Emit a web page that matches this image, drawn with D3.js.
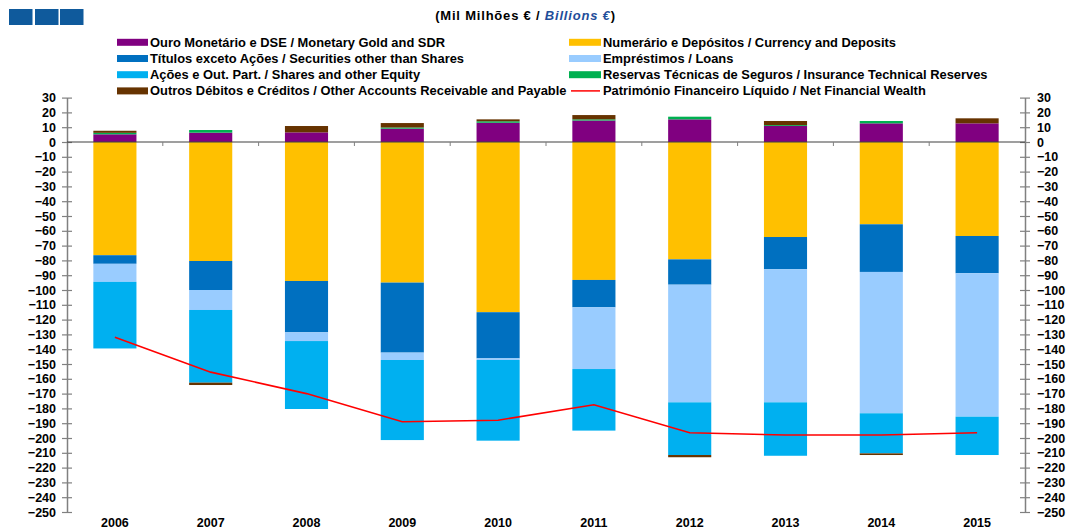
<!DOCTYPE html>
<html>
<head>
<meta charset="utf-8">
<script src="https://cdn.jsdelivr.net/npm/d3@7"></script>
<style>
  body { margin: 0; background: #fff; }
  svg { display: block; font-family: "Liberation Sans", Arial, sans-serif; }
  .axis text { font-size: 12.5px; font-weight: bold; fill: #000; }
  .legend text { font-size: 12.9px; font-weight: bold; fill: #000; }
</style>
</head>
<body>
<svg width="1070" height="530"></svg>
<script>
// data (Mil Milhões €)
var years = ['2006','2007','2008','2009','2010','2011','2012','2013','2014','2015'];
var gold       = [5.2, 6.3, 6.5, 9.0, 13.0, 14.5, 15.3, 10.8, 12.6, 12.6];
var currency   = [-76.5, -80.4, -93.9, -95.0, -115.0, -93.2, -79.3, -64.2, -55.6, -63.5];
var securities = [-5.8, -19.6, -34.7, -47.3, -31.2, -18.5, -17.1, -21.8, -32.2, -25.2];
var loans      = [-12.2, -13.5, -5.9, -5.0, -1.1, -41.7, -79.5, -89.9, -95.5, -96.9];
var shares     = [-45.0, -49.1, -45.9, -54.1, -54.5, -41.6, -35.6, -36.1, -27.1, -25.9];
var insurance  = [1.0, 1.8, 0.0, 0.8, 1.0, 0.8, 1.8, 0.6, 1.6, 0.0];
var other      = [1.4, -1.6, 4.3, 3.0, 1.3, 2.9, -1.5, 2.8, -1.1, 3.4];
var netWealth  = [-132.0, -155.5, -170.0, -189.0, -188.0, -177.5, -196.5, -198.0, -198.0, -196.5];
var yTicks = d3.range(-250, 31, 10);

var series = [
  {key:'gold', vals:gold, color:'#800080', label:'Ouro Monetário e DSE / Monetary Gold and SDR'},
  {key:'currency', vals:currency, color:'#FFC000', label:'Numerário e Depósitos / Currency and Deposits'},
  {key:'securities', vals:securities, color:'#0070C0', label:'Títulos exceto Ações / Securities other than Shares'},
  {key:'loans', vals:loans, color:'#99CCFF', label:'Empréstimos / Loans'},
  {key:'shares', vals:shares, color:'#00B0F0', label:'Ações e Out. Part. / Shares and other Equity'},
  {key:'insurance', vals:insurance, color:'#00B050', label:'Reservas Técnicas de Seguros / Insurance Technical Reserves'},
  {key:'other', vals:other, color:'#663300', label:'Outros Débitos e Créditos / Other Accounts Receivable and Payable'}
];

var left = 67, right = 1025, y_top = 97.6, y_bot = 512;

var svg = d3.select('svg');

// logo squares
[9, 35, 60].forEach(function(x){
  svg.append('rect').attr('x', x).attr('y', 9).attr('width', 23.5).attr('height', 16).attr('fill', '#0F5A9C');
});

// title
var title = svg.append('text').attr('x', 525.5).attr('y', 20).attr('text-anchor', 'middle')
  .attr('font-size', 13).attr('font-weight', 'bold').attr('letter-spacing', 0.8);
title.append('tspan').text('(Mil Milhões € / ');
title.append('tspan').attr('fill', '#1F4E9A').attr('font-style', 'italic').text('Billions €');
title.append('tspan').text(')');

// legend
var lg = svg.append('g').attr('class', 'legend');
var legItems = [
  {s:'gold', col:0, row:0}, {s:'currency', col:1, row:0},
  {s:'securities', col:0, row:1}, {s:'loans', col:1, row:1},
  {s:'shares', col:0, row:2}, {s:'insurance', col:1, row:2},
  {s:'other', col:0, row:3}, {s:'net', col:1, row:3}
];
legItems.forEach(function(it){
  var x = it.col == 0 ? 117 : 569;
  var tx = it.col == 0 ? 150 : 603;
  var y = 42.3 + it.row * 16.2;
  if(it.s == 'net'){
    lg.append('line').attr('x1', x + 2).attr('x2', x + 31).attr('y1', y).attr('y2', y)
      .attr('stroke', '#FF0000').attr('stroke-width', 1.5);
    lg.append('text').attr('x', tx).attr('y', y + 4.5).text('Património Financeiro Líquido / Net Financial Wealth');
  } else {
    var s = series.find(function(d){ return d.key == it.s; });
    lg.append('rect').attr('x', x).attr('y', y - 3.5).attr('width', tx - x - 2).attr('height', 7).attr('fill', s.color);
    lg.append('text').attr('x', tx).attr('y', y + 4.5).text(s.label);
  }
});

// scales
var x_scale = d3.scaleBand().domain(years).range([left, right]).paddingInner(0.55).paddingOuter(0.275);
var y_scale = d3.scaleLinear().domain([-250, 30]).range([y_bot, y_top]);

// stacked bars
var table = years.map(function(y, i){
  var row = {year: y};
  series.forEach(function(s){ row[s.key] = s.vals[i]; });
  return row;
});
var stack = d3.stack().keys(series.map(function(s){ return s.key; }))
  .offset(d3.stackOffsetDiverging);
var stacked = stack(table);

var bars = svg.append('g');
stacked.forEach(function(layer, li){
  bars.append('g').attr('fill', series[li].color)
    .selectAll('rect').data(layer.filter(function(d){ return d[1] != d[0]; })).enter()
    .append('rect')
    .attr('x', function(d){ return x_scale(d.data.year); })
    .attr('width', x_scale.bandwidth())
    .attr('y', function(d){ return y_scale(Math.max(d[0], d[1])); })
    .attr('height', function(d){ return Math.abs(y_scale(d[0]) - y_scale(d[1])); });
});

// axes
var y_left = d3.axisLeft(y_scale).tickValues(yTicks).tickSize(0).tickPadding(11);
var y_right = d3.axisRight(y_scale).tickValues(yTicks).tickSize(0).tickPadding(12);
var gl = svg.append('g').attr('class', 'axis').attr('transform', 'translate(' + left + ',0)').call(y_left);
var gr = svg.append('g').attr('class', 'axis').attr('transform', 'translate(' + right + ',0)').call(y_right);
[gl, gr].forEach(function(g){
  g.select('.domain').attr('stroke', '#808080').attr('stroke-width', 1.5);
  g.selectAll('.tick').append('line').attr('x1', -5).attr('x2', 5).attr('stroke', '#808080').attr('stroke-width', 1.2);
});

// zero line and category ticks
svg.append('line').attr('x1', left).attr('x2', right).attr('y1', y_scale(0)).attr('y2', y_scale(0))
  .attr('stroke', '#404040').attr('stroke-width', 1.2);
var step = x_scale.step();
years.slice(0, -1).forEach(function(y){
  var bx = x_scale(y) + x_scale.bandwidth() / 2 + step / 2;
  svg.append('line').attr('x1', bx).attr('x2', bx).attr('y1', y_scale(0)).attr('y2', y_scale(0) + 4)
    .attr('stroke', '#808080').attr('stroke-width', 1);
});

// year labels
svg.append('g').attr('class', 'axis').selectAll('text').data(years).enter()
  .append('text')
  .attr('x', function(d){ return x_scale(d) + x_scale.bandwidth() / 2; })
  .attr('y', 526.5).attr('text-anchor', 'middle').text(function(d){ return d; });

// net financial wealth line
var line = d3.line()
  .x(function(d, i){ return x_scale(years[i]) + x_scale.bandwidth() / 2; })
  .y(function(d){ return y_scale(d); });
svg.append('path').datum(netWealth).attr('d', line)
  .attr('fill', 'none').attr('stroke', '#FF0000').attr('stroke-width', 1.6);
</script>
</body>
</html>
